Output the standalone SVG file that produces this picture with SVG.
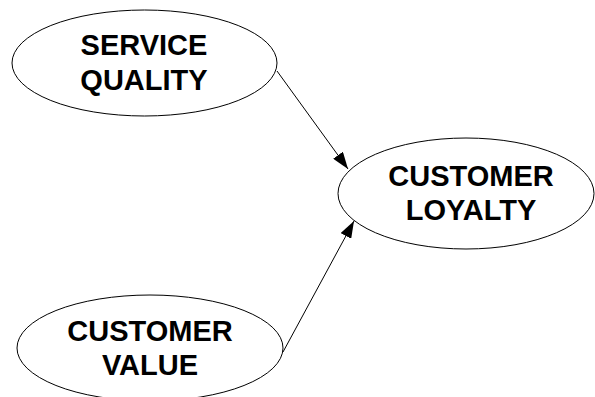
<svg xmlns="http://www.w3.org/2000/svg" width="595" height="397" viewBox="0 0 595 397">
  <style>
    .node ellipse { fill: #ffffff; stroke: #000000; stroke-width: 1; }
    .node text { font-family: "Liberation Sans", Arial, sans-serif; font-weight: bold; font-size: 29px; text-anchor: middle; fill: #000000; }
    .edge { stroke: #000000; stroke-width: 1; fill: none; marker-end: url(#arrow); }
  </style>
  <defs>
    <marker id="arrow" markerWidth="17" markerHeight="12" refX="17" refY="6" orient="auto" markerUnits="userSpaceOnUse">
      <path d="M0,0 L17,6 L0,12 Z" fill="#000000"/>
    </marker>
  </defs>
  <rect width="595" height="397" fill="#ffffff"/>

  <g id="connectors">
    <line class="edge" x1="277" y1="71" x2="348" y2="169"/>
    <line class="edge" x1="283" y1="352" x2="354" y2="221"/>
  </g>

  <g id="service-quality" class="node">
    <ellipse cx="144.5" cy="63" rx="132.5" ry="53"/>
    <text x="144" y="55">SERVICE</text>
    <text x="144" y="90">QUALITY</text>
  </g>

  <g id="customer-loyalty" class="node">
    <ellipse cx="466" cy="193.5" rx="128" ry="55.5"/>
    <text x="471" y="186">CUSTOMER</text>
    <text x="471" y="220">LOYALTY</text>
  </g>

  <g id="customer-value" class="node">
    <ellipse cx="150" cy="348" rx="133" ry="53"/>
    <text x="150" y="341">CUSTOMER</text>
    <text x="150" y="375">VALUE</text>
  </g>
</svg>
